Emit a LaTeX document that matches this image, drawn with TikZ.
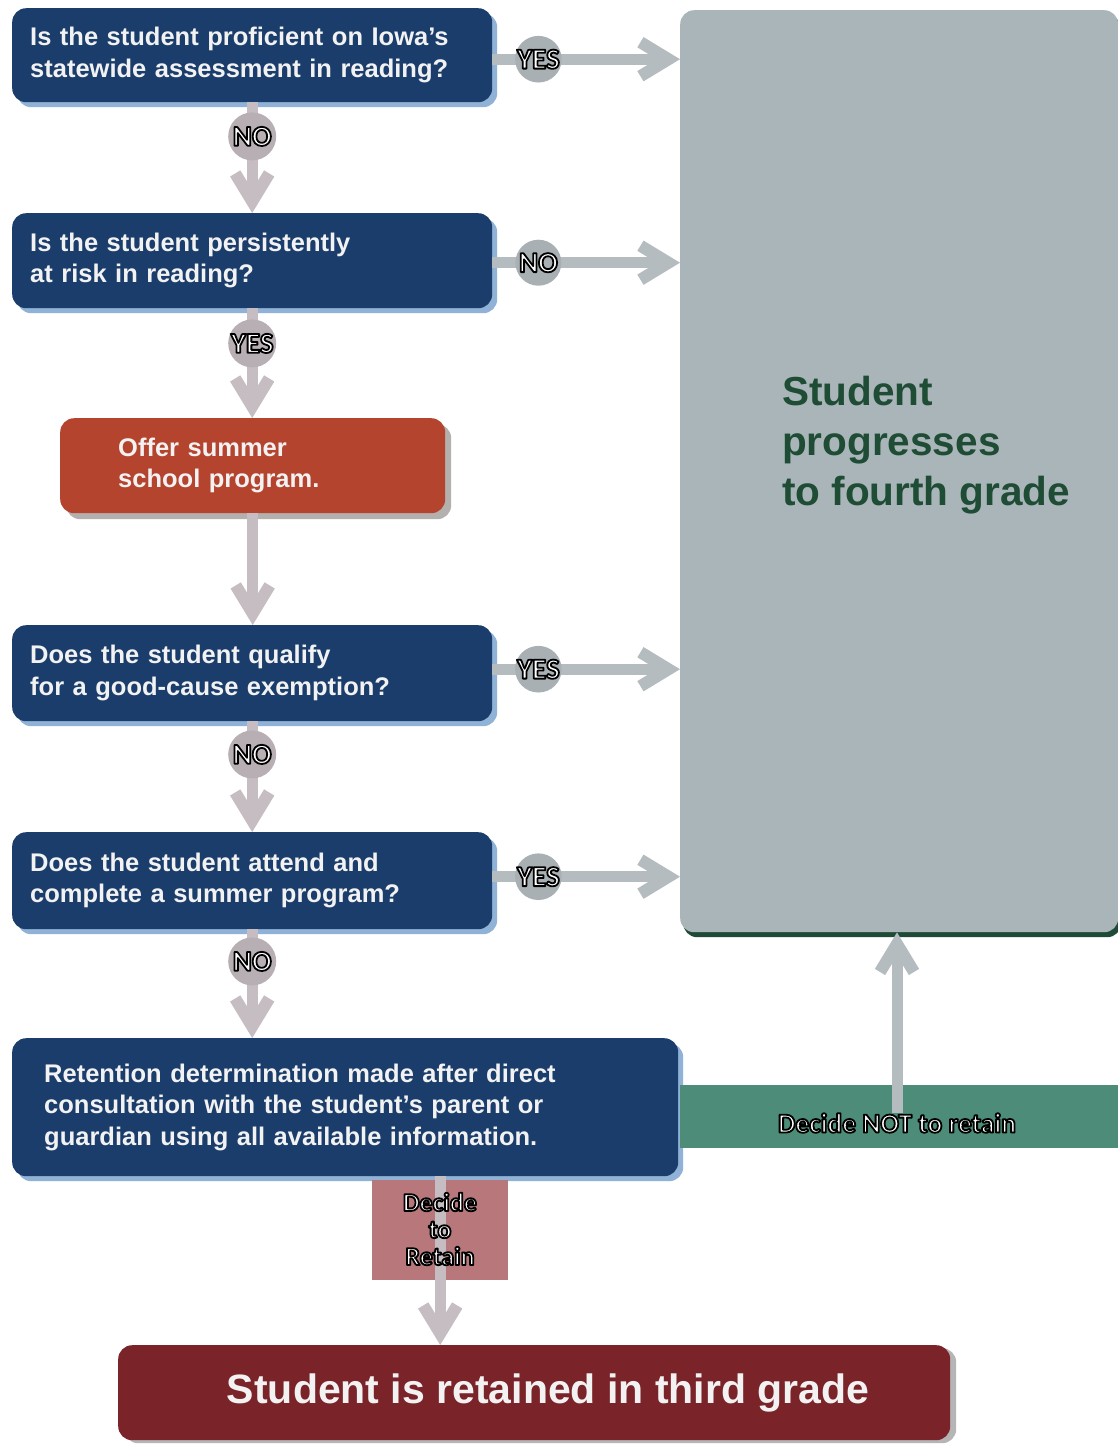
\documentclass[tikz,border=0pt]{standalone}
\usepackage{fontspec}
\setmainfont{Liberation Sans}
\newfontfamily\carl{Carlito}
\usetikzlibrary{arrows.meta,shadows}

\definecolor{navy}{HTML}{1B3D6B}
\definecolor{navysh}{HTML}{8FB2D6}
\definecolor{rust}{HTML}{B5442F}
\definecolor{rustsh}{HTML}{B3B0AE}
\definecolor{progfill}{HTML}{AAB5B9}
\definecolor{progsh}{HTML}{1F4A38}
\definecolor{progtxt}{HTML}{1F4C34}
\definecolor{bandfill}{HTML}{4C8C79}
\definecolor{pinkfill}{HTML}{B8777B}
\definecolor{finalfill}{HTML}{7A2329}
\definecolor{finalsh}{HTML}{B5B5B5}
\definecolor{hline}{HTML}{B4BCC0}
\definecolor{hbadge}{HTML}{A8B0B4}
\definecolor{vline}{HTML}{C6BDC2}
\definecolor{vbadge}{HTML}{B8AFB5}
\definecolor{boxtxt}{HTML}{F2F2F2}

% white text with a black outline (fill + stroke render mode)
\newcommand\outtxt[1]{{\color{white}\special{pdf:literal direct 0 G 2 Tr 1.8 w 1 j}#1\special{pdf:literal direct 0 Tr 1 w 0 j}}}

\begin{document}
\begin{tikzpicture}[x=1pt,y=-1pt,
  box/.style={anchor=north west, rounded corners=14pt, inner ysep=0pt, align=left,
    text=boxtxt, font=\bfseries\fontsize{25.5}{31.5}\selectfont},
  qbox/.style={box, fill=navy, inner xsep=18pt, text width=444pt,
    drop shadow={shadow xshift=5pt, shadow yshift=-5pt, fill=navysh, opacity=1}},
  sbox/.style={box, fill=rust, inner xsep=58pt, text width=269pt,
    drop shadow={shadow xshift=6pt, shadow yshift=-6pt, fill=rustsh, opacity=1}},
  rbox/.style={qbox, inner xsep=32pt, text width=602pt},
  progbox/.style={anchor=north west, rounded corners=14pt, fill=progfill,
    minimum width=438pt, minimum height=922pt, inner sep=0pt,
    drop shadow={shadow xshift=3pt, shadow yshift=-5pt, fill=progsh, opacity=1}},
  bandbox/.style={anchor=north west, fill=bandfill, minimum width=440pt, minimum height=63pt, inner sep=0pt},
  pinkbox/.style={anchor=north west, fill=pinkfill, minimum width=136pt, minimum height=100pt, inner sep=0pt},
  finalbox/.style={anchor=north west, rounded corners=14pt, fill=finalfill,
    minimum width=832pt, minimum height=95pt, text=boxtxt,
    font=\bfseries\fontsize{41}{48}\selectfont,
    drop shadow={shadow xshift=6pt, shadow yshift=-3pt, fill=finalsh, opacity=1}},
  bigtext/.style={anchor=north west, align=left, inner sep=0pt, text=progtxt,
    font=\bfseries\fontsize{40.5}{50}\selectfont},
  lbl/.style={inner sep=0pt, align=center, font=\carl\bfseries\fontsize{27.5}{27.5}\selectfont},
  stacklbl/.style={lbl, font=\carl\bfseries\fontsize{26}{27}\selectfont},
  conn/.style={line width=11pt, -{Straight Barb[length=28pt,width=34pt,line width=12pt]}},
  hconn/.style={conn, draw=hline},
  vconn/.style={conn, draw=vline},
  hbadge/.style={circle, fill=hbadge, minimum size=46pt, inner sep=0pt,
    font=\carl\bfseries\fontsize{29}{29}\selectfont},
  vbadge/.style={hbadge, fill=vbadge, minimum size=48pt}
]
\useasboundingbox (0,0) rectangle (1118,1444);

% right-hand outcome box
\node[progbox] (prog) at (680,10) {};
\node[bigtext] (progtext) at (782,376) {Student\\progresses\\to fourth grade};

% question boxes
\node[qbox, minimum height=94pt] (q1) at (12,8)
  {Is the student proficient on Iowa's\\statewide assessment in reading?};
\node[qbox, minimum height=95pt] (q2) at (12,213)
  {Is the student persistently\\at risk in reading?};
\node[sbox, minimum height=95pt] (s1) at (60,418)
  {Offer summer\\school program.};
\node[qbox, minimum height=96pt] (q3) at (12,625)
  {Does the student qualify\\for a good-cause exemption?};
\node[qbox, minimum height=97pt] (q4) at (12,832)
  {Does the student attend and\\complete a summer program?};
\node[rbox, minimum height=138pt] (ret) at (12,1038)
  {Retention determination made after direct\\consultation with the student's parent or\\guardian using all available information.};

% decision bands
\node[bandbox] (band) at (680,1085) {};
\node[pinkbox] (retbox) at (372,1180) {};
\node[finalbox] (final) at (118,1345) {\hspace*{28pt}Student is retained in third grade};

% horizontal YES / NO connectors
\coordinate (h1) at ([yshift=-4pt]q1.east);
\coordinate (h2) at ([yshift=-2pt]q2.east);
\coordinate (h3) at ([yshift=4pt]q3.east);
\coordinate (h4) at ([yshift=4pt]q4.east);
\draw[hconn] (h1) -- (h1 -| prog.west);
\draw[hconn] (h2) -- (h2 -| prog.west);
\draw[hconn] (h3) -- (h3 -| prog.west);
\draw[hconn] (h4) -- (h4 -| prog.west);
\node[hbadge] (by1) at ([xshift=46pt]h1) {\outtxt{YES}};
\node[hbadge] (bn2) at ([xshift=46pt]h2) {\outtxt{NO}};
\node[hbadge] (by3) at ([xshift=46pt]h3) {\outtxt{YES}};
\node[hbadge] (by4) at ([xshift=46pt]h4) {\outtxt{YES}};

% vertical connectors
\draw[vconn] (q1.south) -- (q2.north);
\draw[vconn] (q2.south) -- (q2.south |- s1.north);
\draw[vconn] (s1.south) -- (s1.south |- q3.north);
\draw[vconn] (q3.south) -- (q4.north);
\draw[vconn] (q4.south) -- (q4.south |- ret.north);
\node[vbadge] (bn1) at ([yshift=-34pt]q1.south) {\outtxt{NO}};
\node[vbadge] (by2) at ([yshift=-35pt]q2.south) {\outtxt{YES}};
\node[vbadge] (bn3) at ([yshift=-33pt]q3.south) {\outtxt{NO}};
\node[vbadge] (bn4) at ([yshift=-32pt]q4.south) {\outtxt{NO}};

% retain / not retain
\node[lbl] (nottxt) at (897,1123) {\outtxt{Decide NOT to retain}};
\draw[hconn] (nottxt.north) -- (nottxt.north |- prog.south);
\draw[vconn] (retbox.north |- ret.south) -- (retbox.north |- final.north);
\node[stacklbl] (retlbl) at (440,1229) {\outtxt{Decide}\\\outtxt{to}\\\outtxt{Retain}};
\end{tikzpicture}
\end{document}
